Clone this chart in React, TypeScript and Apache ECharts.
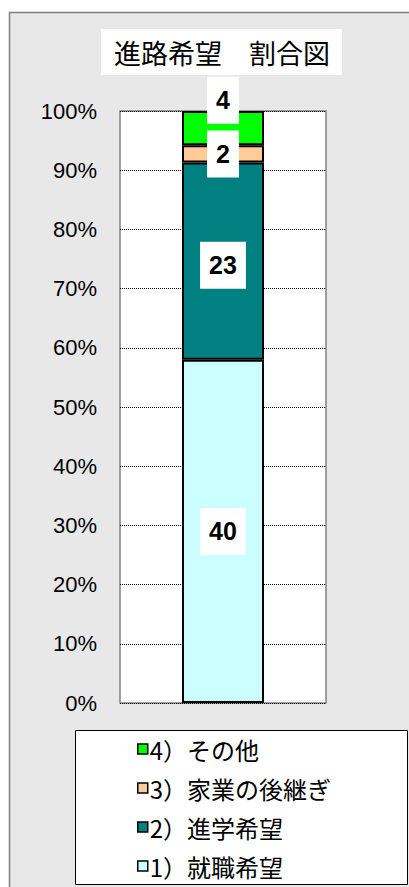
import React, { useEffect, useRef } from "react";
import * as echarts from "echarts";

const categories = ["進路希望"];
const seriesNames = ["1）就職希望", "2）進学希望", "3）家業の後継ぎ", "4）その他"];
const counts = [40, 23, 2, 4];
const colors = ["#ccffff", "#008080", "#ffcc99", "#00ff00"];
const labelOffsets = [0, 4, 0, -28];
const yTicks = { min: 0, max: 100, interval: 10 };
const titleText = "進路希望　割合図";

export default function App() {
  const ref = useRef<HTMLDivElement>(null);
  useEffect(() => {
    if (!ref.current) return;
    const chart = echarts.init(ref.current, undefined, { renderer: "svg" });
    const total = counts.reduce((a, b) => a + b, 0);
    const series = seriesNames.map((name, i) => ({
      name,
      type: "bar",
      stack: "all",
      barWidth: 82,
      data: [counts[i] / total * 100],
      itemStyle: { color: colors[i], borderColor: "#000", borderWidth: 2 },
      label: {
        show: true,
        position: "inside",
        offset: [0, labelOffsets[i]],
        formatter: () => String(counts[i]),
        fontSize: 25,
        fontWeight: "bold",
        fontFamily: "Liberation Sans",
        color: "#000",
        backgroundColor: "#fff",
        padding: [11, 9, 11, 9],
      },
    }));
    chart.setOption({
      animation: false,
      backgroundColor: "#ffffff",
      graphic: [
        {
          type: "rect",
          z: -10,
          silent: true,
          shape: { x: 9.5, y: 12.5, width: 420, height: 900 },
          style: { fill: "#e8e8e8", stroke: "#7f7f7f", lineWidth: 1.5 },
        },
        {
          type: "rect",
          z: -5,
          shape: { x: 101, y: 29, width: 241, height: 46 },
          style: { fill: "#ffffff" },
        },
        {
          type: "text",
          x: 222,
          y: 52,
          style: {
            text: titleText,
            fontSize: 27,
            fontFamily: "Noto Sans CJK JP",
            fill: "#000",
            align: "center",
            verticalAlign: "middle",
          },
        },
        {
          type: "rect",
          z: -5,
          shape: { x: 75.5, y: 730.5, width: 332, height: 154 },
          style: { fill: "#ffffff", stroke: "#000", lineWidth: 1 },
        },
      ],
      legend: {
        orient: "vertical",
        left: 137,
        top: 735,
        height: 150,
        padding: 0,
        data: [...seriesNames].reverse(),
        icon: "rect",
        itemWidth: 10,
        itemHeight: 10,
        itemGap: 11,
        itemStyle: { borderColor: "#000", borderWidth: 1.5 },
        textStyle: {
          fontSize: 24,
          lineHeight: 28,
          fontFamily: "Noto Sans CJK JP",
          color: "#000",
          padding: [0, 0, 0, -3],
        },
      },
      grid: {
        left: 120,
        right: 83,
        top: 111,
        bottom: 184,
        show: true,
        backgroundColor: "#ffffff",
        borderColor: "#808080",
        borderWidth: 1.5,
      },
      xAxis: {
        type: "category",
        data: categories,
        show: false,
      },
      yAxis: {
        type: "value",
        min: yTicks.min,
        max: yTicks.max,
        interval: yTicks.interval,
        axisLine: { show: false },
        axisTick: { show: false },
        axisLabel: {
          formatter: "{value}%",
          fontSize: 22,
          fontFamily: "Liberation Sans",
          color: "#000",
          margin: 23,
        },
        splitLine: { lineStyle: { type: "dotted", color: "#000", width: 1 } },
      },
      series,
    });
    return () => chart.dispose();
  }, []);
  return (
    <div
      ref={ref}
      style={{ position: "fixed", left: 0, top: 0, width: 409, height: 887 }}
    />
  );
}
